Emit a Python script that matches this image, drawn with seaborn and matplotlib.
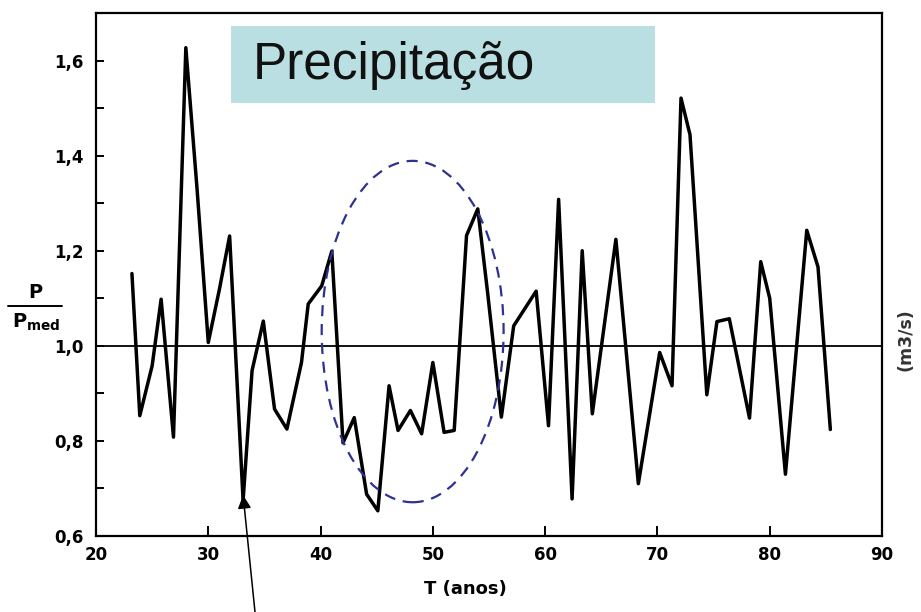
import matplotlib
matplotlib.use("Agg")
import matplotlib.pyplot as plt
import seaborn as sns
import pandas as pd
from matplotlib.patches import Ellipse, Rectangle
from matplotlib.lines import Line2D
from matplotlib.ticker import FuncFormatter, MultipleLocator

# ---- data ----
years = [23.2, 23.9, 25.0, 25.8, 26.9, 28.0, 29.0, 30.0, 31.0, 31.9,
         33.1, 33.9, 34.9, 35.9, 37.0, 38.3, 38.9, 40.1, 41.0, 42.0,
         43.0, 44.1, 45.1, 46.1, 46.9, 48.0, 49.0, 50.0, 51.0, 51.9,
         53.0, 54.0, 54.9, 56.1, 57.2, 59.2, 60.3, 61.2, 62.4, 63.3,
         64.2, 66.3, 68.3, 70.2, 71.3, 72.1, 72.9, 74.4, 75.3, 76.4,
         78.2, 79.2, 80.0, 81.4, 83.3, 84.3, 85.4]
ratio = [1.152, 0.853, 0.958, 1.098, 0.808, 1.627, 1.33, 1.007, 1.12, 1.231,
         0.675, 0.948, 1.052, 0.867, 0.825, 0.965, 1.088, 1.126, 1.199, 0.796,
         0.849, 0.688, 0.653, 0.916, 0.822, 0.864, 0.815, 0.965, 0.818, 0.822,
         1.232, 1.288, 1.107, 0.85, 1.042, 1.115, 0.832, 1.308, 0.678, 1.2,
         0.857, 1.224, 0.71, 0.986, 0.916, 1.521, 1.444, 0.897, 1.051, 1.057,
         0.848, 1.177, 1.10, 0.73, 1.243, 1.166, 0.824]
x_ticks = [20, 30, 40, 50, 60, 70, 80, 90]
y_ticks = [0.6, 0.8, 1.0, 1.2, 1.4, 1.6]
title_text = "Precipitação"
x_label = "T (anos)"
right_label = "(m3/s)"
mean_level = 1.0
ellipse_center = (48.2, 1.03)
ellipse_size = (16.2, 0.718)
arrow_target = (33.1, 0.686)

df = pd.DataFrame({"T": years, "P": ratio})

sns.set_theme(style="ticks")
plt.rcParams["font.family"] = ["DejaVu Sans"]

W, H = 921, 612
fig = plt.figure(figsize=(W / 100, H / 100), dpi=100)
ax = fig.add_axes([96 / W, 1 - 536 / H, (882 - 96) / W, (536 - 13) / H])

sns.lineplot(data=df, x="T", y="P", ax=ax, color="black", lw=2.5,
             sort=False, estimator=None)
ax.axhline(mean_level, color="black", lw=1.3, zorder=1)

ell = Ellipse(ellipse_center, ellipse_size[0], ellipse_size[1], fill=False,
              edgecolor="#2e3192", lw=1.6, linestyle=(0, (5, 3.5)), zorder=3)
ax.add_patch(ell)

ax.set_xlim(20, 90)
ax.set_ylim(0.6, 1.70)
ax.set_xticks(x_ticks)
ax.set_yticks(y_ticks)
ax.yaxis.set_minor_locator(MultipleLocator(0.1))
ax.yaxis.set_major_formatter(FuncFormatter(lambda v, p: f"{v:.1f}".replace(".", ",")))
ax.tick_params(axis="x", direction="in", length=7, width=1.4, pad=7,
               labelsize=12, colors="black")
ax.tick_params(axis="y", which="both", direction="in", length=6, width=1.4,
               pad=9, labelsize=12, colors="black")
for lab in ax.get_xticklabels() + ax.get_yticklabels():
    lab.set_fontweight("bold")
for s in ax.spines.values():
    s.set_linewidth(1.6)
    s.set_color("black")

ax.set_xlabel(x_label, fontsize=13, fontweight="bold", labelpad=6, color="black")
ax.xaxis.set_label_coords(0.47, -0.085)
ax.set_ylabel("")

# y label as a fraction
fig.text(35 / W, 1 - 292 / H, "P", fontsize=14, fontweight="bold",
         ha="center", va="center", color="black")
fig.add_artist(Line2D([8 / W, 62 / W], [1 - 306 / H, 1 - 306 / H],
                      transform=fig.transFigure, color="black", lw=1.4))
fig.text(36 / W, 1 - 322 / H, r"$\mathbf{P_{med}}$", fontsize=14,
         ha="center", va="center", color="black")

# right label
fig.text(905 / W, 1 - 340 / H, right_label, rotation=90, fontsize=12.5,
         fontweight="bold", color="#333333", ha="center", va="center")

# title box
fig.add_artist(Rectangle((231 / W, 1 - 103 / H), (655 - 231) / W, (103 - 26) / H,
                         transform=fig.transFigure, facecolor="#b9dfe2",
                         edgecolor="none", zorder=5))
fig.text(253 / W, 1 - 66 / H, title_text, fontsize=37, family="Liberation Sans",
         color="#111111", ha="left", va="center", zorder=6)

# arrow
ax.annotate("", xy=arrow_target, xycoords="data",
            xytext=(255 / W, 0.0), textcoords="figure fraction",
            arrowprops=dict(arrowstyle="-|>", color="black", lw=1.1,
                            mutation_scale=20, shrinkA=0, shrinkB=0),
            annotation_clip=False)

fig.savefig("out.png", dpi=100)
